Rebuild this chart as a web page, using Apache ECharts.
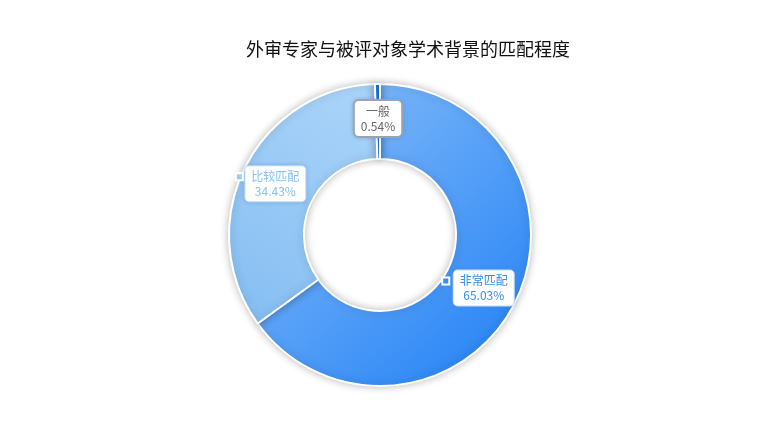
<!DOCTYPE html>
<html>
<head>
<meta charset="utf-8">
<script src="https://cdn.jsdelivr.net/npm/echarts@6/dist/echarts.min.js"></script>
<style>html,body{margin:0;padding:0;background:#fff}#c{width:759px;height:441px}</style>
</head>
<body>
<div id="c"></div>
<script>
var titleText = '外审专家与被评对象学术背景的匹配程度';
var categories = ['非常匹配', '比较匹配', '一般'];
var values = [65.03, 34.43, 0.54];

var sliceColors = [
  new echarts.graphic.LinearGradient(0, 0, 1, 1, [{offset: 0, color: '#8cc0f9'}, {offset: 1, color: '#1f7ff5'}]),
  new echarts.graphic.LinearGradient(1, 0, 0, 1, [{offset: 0, color: '#acd5f9'}, {offset: 1, color: '#84bdf2'}]),
  '#1a73e8'
];
var squareColors = ['#3a8df4', '#9ccdf7', '#1a73e8'];
var textColors = ['#3a8cf0', '#86c0f4', '#666666'];
var boxBorders = [['#e3effd', 1], ['#d5eafc', 1], ['#a8a8a8', 2]];
var squareOffsets = [[-38, -7], [-36, -7], [-29, -7]];

var mainData = categories.map(function (n, i) {
  return {
    name: n, value: values[i],
    itemStyle: {color: sliceColors[i]},
    label: {color: textColors[i], borderColor: boxBorders[i][0], borderWidth: boxBorders[i][1]}
  };
});
var squareData = categories.map(function (n, i) {
  return {
    name: n, value: values[i],
    label: {offset: squareOffsets[i], rich: {sq: {backgroundColor: squareColors[i]}}}
  };
});

var chart = echarts.init(document.getElementById('c'));
chart.setOption({
  animation: false,
  title: {
    text: titleText, left: 241, top: 35,
    textStyle: {fontSize: 18, fontWeight: 'normal', color: '#111', fontFamily: 'Noto Sans CJK SC'}
  },
  series: [{
    type: 'pie',
    center: [380, 235],
    radius: [76, 151],
    startAngle: 90,
    itemStyle: {borderColor: '#fff', borderWidth: 2, shadowBlur: 8, shadowColor: 'rgba(0,0,0,0.25)'},
    label: {
      show: true, position: 'inside',
      formatter: '{b}\n{d}%',
      fontSize: 12, lineHeight: 15, fontFamily: 'Noto Sans CJK SC',
      backgroundColor: '#fff', borderRadius: 4, padding: [3, 6, 2, 6],
      shadowBlur: 4, shadowColor: 'rgba(60,120,200,0.35)'
    },
    labelLine: {show: false},
    emphasis: {disabled: true},
    data: mainData
  }, {
    type: 'pie',
    silent: true,
    center: [380, 235],
    radius: [76, 151],
    startAngle: 90,
    itemStyle: {color: 'transparent', borderWidth: 0},
    label: {
      show: true, position: 'inside',
      formatter: '{sq|}',
      rich: {sq: {width: 5, height: 5, borderColor: '#fff', borderWidth: 2}}
    },
    labelLine: {show: false},
    emphasis: {disabled: true},
    data: squareData
  }]
});
</script>
</body>
</html>
